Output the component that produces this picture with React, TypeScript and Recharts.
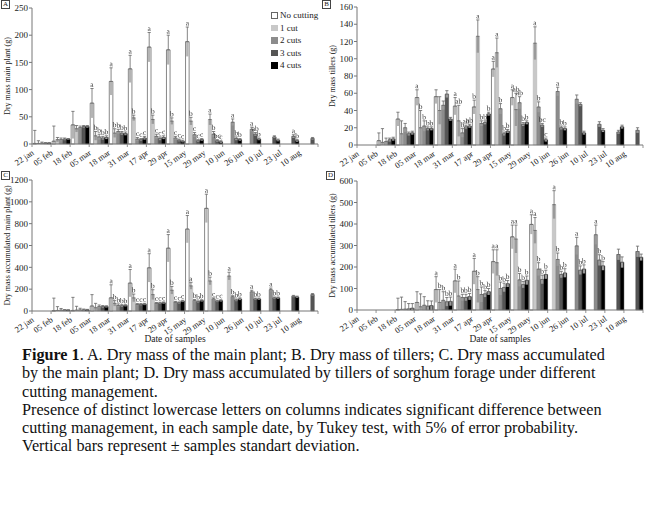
import React from 'react';
import { BarChart, Bar, XAxis, YAxis, ErrorBar, LabelList } from 'recharts';

const FONT = '"Liberation Serif", "Times New Roman", serif';
const _ = null;

const DATES = ['22 jan', '05 feb', '18 feb', '05 mar', '18 mar', '31 mar', '17 apr', '29 apr', '15 may', '29 may', '10 jun', '26 jun', '10 jul', '23 jul', '10 aug'];
const SERIES = ['No cutting', '1 cut', '2 cuts', '3 cuts', '4 cuts'];
const FILLS = ['#ffffff', '#c8c8c8', '#8c8c8c', '#555555', '#000000'];
const STROKES = ['#6a6a6a', '#a8a8a8', '#7a7a7a', '#444444', '#000000'];

// ---------- Panel A: dry mass main plant ----------
const A_TICKS = [0, 50, 100, 150, 200, 250];
const A_NC = [1, 5, 35, 75, 115, 138, 178, 173, 188, _, _, _, _, _, _];
const A_NC_SD = [24, 28, 25, 27, 25, 25, 27, 27, 27, _, _, _, _, _, _];
const A_C1 = [1, 8, 28, 15, 20, 48, 45, 42, 42, 45, _, _, _, _, _];
const A_C1_SD = [5, 4, 6, 8, 8, 5, 8, 6, 7, 10, _, _, _, _, _];
const A_C2 = [1.5, 8, 30, 13, 23, 9, 14, 11, 17, 18, 40, 27, _, _, _];
const A_C2_SD = [2, 3, 3, 5, 4, 3, 4, 3, 4, 5, 6, 4, _, _, _];
const A_C3 = [1.5, 9, 32, 11, 20, 8, 10, 7, 6, 6, 10, 18, 13, 14, 10];
const A_C3_SD = [1, 2, 2, 3, 3, 2, 3, 2, 2, 2, 3, 3, 2, 3, 2];
const A_C4 = [1.5, 9, 32, 12, 19, 11, 12, 5, 8, 4, 8, 9, 7, 6, _];
const A_C4_SD = [1, 1, 2, 3, 3, 3, 3, 2, 2, 2, 2, 2, 2, 2, _];
const A_NC_L = ['', '', '', 'a', 'a', 'a', 'a', 'a', 'a', '', '', '', '', '', ''];
const A_C1_L = ['', '', '', 'b', 'b', 'b', 'b', 'b', 'b', 'a', '', '', '', '', ''];
const A_C2_L = ['', '', '', 'b', 'b', 'c', 'c', 'c', 'c', 'b', 'a', 'a', '', '', ''];
const A_C3_L = ['', '', '', 'b', 'b', 'c', 'c', 'c', 'c', 'bc', 'b', 'ab', '', 'a', ''];
const A_C4_L = ['', '', '', 'b', 'b', 'c', 'c', 'c', 'c', 'c', 'b', 'b', '', 'b', ''];

// ---------- Panel B: dry mass tillers ----------
const B_TICKS = [0, 20, 40, 60, 80, 100, 120, 140, 160];
const B_NC = [_, 5, 30, 55, 56, 45, 44, 88, 55, _, _, _, _, _, _];
const B_NC_SD = [_, 9, 8, 9, 8, 10, 8, 9, 9, _, _, _, _, _, _];
const B_C1 = [_, 3, 13, 20, 40, 28, 126, 107, 41, 118, _, _, _, _, _];
const B_C1_SD = [_, 16, 15, 20, 16, 18, 19, 17, 19, 19, _, _, _, _, _];
const B_C2 = [_, 4, 20, 22, 46, 14, 25, 42, 49, 44, 62, 53, _, _, _];
const B_C2_SD = [_, 4, 5, 6, 5, 5, 3, 6, 7, 6, 5, 5, _, _, _];
const B_C3 = [_, 6, 13, 19, 59, 21, 26, 13, 24, 23, 20, 47, 24, 15, 17];
const B_C3_SD = [_, 2, 2, 2, 4, 2, 2, 2, 2, 2, 2, 2, 3, 2, 3];
const B_C4 = [_, 7, 14, 19, 30, 22, 36, 16, 26, 6, 19, 14, 17, 21, _];
const B_C4_SD = [_, 2, 2, 2, 2, 2, 2, 2, 2, 2, 2, 2, 2, 2, _];
const B_NC_L = ['', '', '', 'a', '', 'a', 'b', 'a', 'a', '', '', '', '', '', ''];
const B_C1_L = ['', '', '', 'b', '', 'ab', 'a', 'a', 'ab', 'a', '', '', '', '', ''];
const B_C2_L = ['', '', '', 'b', '', 'b', 'b', 'b', 'ab', 'b', 'a', '', '', '', ''];
const B_C3_L = ['', '', '', 'b', '', 'ab', 'b', 'b', 'b', 'bc', 'b', '', '', '', ''];
const B_C4_L = ['', '', '', 'b', '', 'ab', 'b', 'b', 'b', 'c', 'b', '', '', '', ''];

// ---------- Panel C: dry mass accumulated main plant ----------
const C_TICKS = [0, 200, 400, 600, 800, 1000, 1200];
const C_NC = [_, 3, 5, 45, 120, 255, 395, 575, 750, 940, _, _, _, _, _];
const C_NC_SD = [_, 115, 120, 105, 120, 125, 130, 125, 125, 130, _, _, _, _, _];
const C_C1 = [_, 5, 8, 30, 70, 120, 150, 190, 230, 275, 320, _, _, _, _];
const C_C1_SD = [_, 35, 35, 40, 25, 35, 45, 35, 30, 35, 35, _, _, _, _];
const C_C2 = [_, 8, 10, 40, 50, 60, 70, 80, 95, 110, 130, 175, 195, _, _];
const C_C2_SD = [_, 15, 15, 15, 15, 8, 8, 8, 10, 10, 10, 15, 15, _, _];
const C_C3 = [_, 8, 10, 40, 48, 60, 72, 75, 85, 90, 100, 110, 120, 135, 150];
const C_C3_SD = [_, 5, 8, 10, 10, 8, 8, 8, 8, 8, 10, 8, 8, 8, 10];
const C_C4 = [_, 8, 10, 40, 50, 62, 75, 90, 95, 95, 110, 110, 120, 128, _];
const C_C4_SD = [_, 3, 5, 8, 8, 8, 8, 8, 8, 8, 10, 8, 8, 8, _];
const C_NC_L = ['', '', '', '', 'a', 'a', 'a', 'a', 'a', 'a', '', '', '', '', ''];
const C_C1_L = ['', '', '', '', 'b', 'b', 'b', 'b', 'a', 'b', 'a', '', '', '', ''];
const C_C2_L = ['', '', '', '', 'b', 'c', 'c', 'c', 'b', 'c', 'b', 'a', 'a', '', ''];
const C_C3_L = ['', '', '', '', 'b', 'c', 'c', 'c', 'b', 'c', 'b', 'b', 'b', '', ''];
const C_C4_L = ['', '', '', '', 'b', 'c', 'c', 'c', 'b', 'c', 'b', 'b', 'b', '', ''];

// ---------- Panel D: dry mass accumulated tillers ----------
const D_TICKS = [0, 100, 200, 300, 400, 500, 600];
const D_NC = [_, _, 2, 35, 95, 135, 180, 225, 340, 398, _, _, _, _, _];
const D_NC_SD = [_, _, 53, 50, 60, 55, 60, 55, 55, 45, _, _, _, _, _];
const D_C1 = [_, _, 3, 15, 35, 65, 95, 220, 330, 370, 490, _, _, _, _];
const D_C1_SD = [_, _, 57, 60, 60, 70, 60, 60, 65, 60, 65, _, _, _, _];
const D_C2 = [_, _, 4, 22, 45, 58, 72, 100, 140, 190, 235, 298, 350, _, _];
const D_C2_SD = [_, _, 35, 40, 40, 15, 35, 30, 30, 30, 30, 40, 45, _, _];
const D_C3 = [_, _, 5, 18, 38, 58, 75, 105, 118, 142, 165, 185, 232, 258, 272];
const D_C3_SD = [_, _, 25, 25, 20, 15, 15, 20, 15, 20, 15, 20, 25, 25, 25];
const D_C4 = [_, _, 8, 20, 40, 62, 85, 122, 138, 165, 172, 190, 205, 222, 245];
const D_C4_SD = [_, _, 22, 22, 20, 15, 15, 15, 20, 20, 20, 20, 20, 25, 15];
const D_NC_L = ['', '', '', '', 'a', 'a', 'a', 'a', 'a', 'a', '', '', '', '', ''];
const D_C1_L = ['', '', '', '', 'b', 'b', 'b', 'a', 'a', 'a', 'a', '', '', '', ''];
const D_C2_L = ['', '', '', '', 'b', 'b', 'b', 'b', 'b', 'b', 'b', 'a', 'a', '', ''];
const D_C3_L = ['', '', '', '', 'b', 'b', 'b', 'b', 'b', 'b', 'b', 'b', 'b', '', ''];
const D_C4_L = ['', '', '', '', 'b', 'b', 'b', 'b', 'b', 'b', 'b', 'b', 'b', '', ''];

const CAPTION_LINES = [
  '. A. Dry mass of the main plant; B. Dry mass of tillers; C. Dry mass accumulated',
  'by the main plant; D. Dry mass accumulated by tillers of sorghum forage under different',
  'cutting management.',
  'Presence of distinct lowercase letters on columns indicates significant difference between',
  'cutting management, in each sample date, by Tukey test, with 5% of error probability.',
  'Vertical bars represent \u00b1 samples standart deviation.',
];

type Num = number | null;

function buildRows(vals: Num[][], sds: Num[][], lets: string[][]) {
  return DATES.map((d, i) => {
    const row: any = { date: d };
    vals.forEach((v, k) => {
      const val = v[i];
      const e = sds[k][i];
      const has = val != null;
      row[`v${k}`] = val;
      row[`lo${k}`] = has && e != null ? [Math.min(e, val as number), 0] : null;
      row[`hi${k}`] = has && e != null ? [0, e] : null;
      row[`t${k}`] = has ? (e ?? 0) : null;
      row[`l${k}`] = has ? lets[k][i] : '';
    });
    return row;
  });
}

const ROWS_A = buildRows([A_NC, A_C1, A_C2, A_C3, A_C4], [A_NC_SD, A_C1_SD, A_C2_SD, A_C3_SD, A_C4_SD], [A_NC_L, A_C1_L, A_C2_L, A_C3_L, A_C4_L]);
const ROWS_B = buildRows([B_NC, B_C1, B_C2, B_C3, B_C4], [B_NC_SD, B_C1_SD, B_C2_SD, B_C3_SD, B_C4_SD], [B_NC_L, B_C1_L, B_C2_L, B_C3_L, B_C4_L]);
const ROWS_C = buildRows([C_NC, C_C1, C_C2, C_C3, C_C4], [C_NC_SD, C_C1_SD, C_C2_SD, C_C3_SD, C_C4_SD], [C_NC_L, C_C1_L, C_C2_L, C_C3_L, C_C4_L]);
const ROWS_D = buildRows([D_NC, D_C1, D_C2, D_C3, D_C4], [D_NC_SD, D_C1_SD, D_C2_SD, D_C3_SD, D_C4_SD], [D_NC_L, D_C1_L, D_C2_L, D_C3_L, D_C4_L]);

const CHART_W = 325;
const PLOT_W = 286;

const DateTick = (props: any) => {
  const { x, y, payload, index } = props;
  const band = PLOT_W / DATES.length;
  return (
    <g transform={`translate(${x},${y})`}>
      <line x1={-band / 2} x2={-band / 2} y1={-2} y2={1} stroke="#777" strokeWidth={0.8} />
      {index === DATES.length - 1 && <line x1={band / 2} x2={band / 2} y1={-2} y2={1} stroke="#777" strokeWidth={0.8} />}
      <text x={-7} y={8} textAnchor="end" fontSize={8.5} fontFamily={FONT} fill="#222" transform="rotate(-35, -7, 8)">
        {payload.value}
      </text>
    </g>
  );
};

const LetterLabel = (props: any) => {
  const { x, y, width, value } = props;
  if (!value) return null;
  const cx = Number(x) + Number(width) / 2;
  const cy = Number(y) - 1.5;
  return (
    <g opacity={0.98} style={{ filter: 'grayscale(1)' }}>
      <text x={cx} y={cy} textAnchor="middle" fontSize={7.5} fontFamily={FONT} fill="#333333" stroke="none" transform={`rotate(-1, ${cx}, ${cy})`}>
        {value}
      </text>
    </g>
  );
};

type PanelProps = {
  rows: any[];
  ticks: number[];
  yLabel: string;
  height: number;
  top: number;
  xHeight: number;
  frame: boolean;
  frameWidth: number;
  xLabel: boolean;
};

function Panel({ rows, ticks, yLabel, height, top, xHeight, frame, frameWidth, xLabel }: PanelProps) {
  const max = ticks[ticks.length - 1];
  return (
    <BarChart
      width={CHART_W}
      height={height}
      data={rows}
      margin={{ top, right: 7, left: 10, bottom: 0 }}
      barSize={3.6}
      barGap={0}
      style={{ fontFamily: FONT }}
    >
      <XAxis
        dataKey="date"
        interval={0}
        tick={<DateTick />}
        tickLine={false}
        tickSize={0}
        tickMargin={2}
        height={xHeight}
        axisLine={{ stroke: '#777', strokeWidth: 1 }}
        label={xLabel ? { value: 'Date of samples', position: 'insideBottom', offset: 6, style: { fontSize: 9.5, fontFamily: FONT, fill: '#222' } } : undefined}
      />
      {frame && (
        <XAxis xAxisId="top" dataKey="date" orientation="top" height={0} tick={false} tickLine={false} axisLine={{ stroke: '#9a9a9a', strokeWidth: frameWidth }} />
      )}
      <YAxis
        domain={[0, max]}
        ticks={ticks}
        interval={0}
        width={22}
        tickSize={3}
        tickMargin={1}
        tickLine={{ stroke: '#777' }}
        axisLine={{ stroke: '#777', strokeWidth: 1 }}
        tick={{ fontSize: 9, fontFamily: FONT, fill: '#222' }}
        label={{ value: yLabel, angle: -90, position: 'insideLeft', offset: -3, style: { textAnchor: 'middle', fontSize: 8, fontFamily: FONT, fill: '#222' } }}
      />
      {frame && (
        <YAxis yAxisId="right" orientation="right" width={0} tick={false} tickLine={false} axisLine={{ stroke: '#9a9a9a', strokeWidth: frameWidth }} />
      )}
      {SERIES.map((name, k) => (
        <Bar
          key={`v${k}`}
          dataKey={`v${k}`}
          name={name}
          stackId={`s${k}`}
          fill={FILLS[k]}
          stroke={STROKES[k]}
          strokeWidth={k === 0 ? 0.8 : 0.4}
          isAnimationActive={false}
        >
          <ErrorBar dataKey={`lo${k}`} width={0} stroke={k === 0 ? '#b4b4b4' : '#9a9a9a'} strokeWidth={2.4} isAnimationActive={false} />
          <ErrorBar dataKey={`hi${k}`} width={1.6} stroke="#666" strokeWidth={0.8} isAnimationActive={false} />
        </Bar>
      ))}
      {SERIES.map((name, k) => (
        <Bar
          key={`t${k}`}
          dataKey={`t${k}`}
          stackId={`s${k}`}
          fill="transparent"
          stroke="none"
          legendType="none"
          isAnimationActive={false}
        >
          <LabelList dataKey={`l${k}`} content={<LetterLabel />} />
        </Bar>
      ))}
    </BarChart>
  );
}

const PanelTag = ({ letter, left, top }: { letter: string; left: number; top: number }) => (
  <div
    style={{
      position: 'absolute',
      left,
      top,
      width: 7,
      height: 7,
      border: '0.8px solid #444',
      fontSize: 7,
      lineHeight: '7px',
      textAlign: 'center',
      fontFamily: FONT,
      color: '#222',
      background: '#fff',
    }}
  >
    {letter}
  </div>
);

const LegendBox = () => (
  <div style={{ position: 'absolute', left: 271, top: 9, fontFamily: FONT, fontSize: 9, color: '#222' }}>
    {SERIES.map((s, k) => (
      <div key={s} style={{ display: 'flex', alignItems: 'center', height: 12.5, whiteSpace: 'nowrap' }}>
        <span
          style={{
            display: 'inline-block',
            width: 4.5,
            height: 4.5,
            background: FILLS[k],
            border: `0.6px solid ${k === 0 ? '#666' : FILLS[k]}`,
            marginRight: 2.5,
          }}
        />
        {s}
      </div>
    ))}
  </div>
);

export default function App() {
  return (
    <div style={{ position: 'absolute', left: 0, top: 0, width: 650, height: 520, background: '#fff', fontFamily: FONT }}>
      <div style={{ position: 'absolute', left: 0, top: 0 }}>
        <Panel rows={ROWS_A} ticks={A_TICKS} yLabel="Dry mass main plant (g)" height={170} top={8} xHeight={26} frame={false} frameWidth={1} xLabel={false} />
      </div>
      <div style={{ position: 'absolute', left: 325, top: 0 }}>
        <Panel rows={ROWS_B} ticks={B_TICKS} yLabel="Dry mass tillers (g)" height={170} top={7} xHeight={25} frame={true} frameWidth={1} xLabel={false} />
      </div>
      <div style={{ position: 'absolute', left: 0, top: 170 }}>
        <Panel rows={ROWS_C} ticks={C_TICKS} yLabel="Dry mass accumulated main plant (g)" height={178} top={10} xHeight={37} frame={true} frameWidth={2} xLabel={true} />
      </div>
      <div style={{ position: 'absolute', left: 325, top: 170 }}>
        <Panel rows={ROWS_D} ticks={D_TICKS} yLabel="Dry mass accumulated tillers (g)" height={178} top={11} xHeight={38} frame={true} frameWidth={2} xLabel={true} />
      </div>
      <LegendBox />
      <PanelTag letter="A" left={1} top={0} />
      <PanelTag letter="B" left={322} top={0} />
      <PanelTag letter="C" left={1} top={171} />
      <PanelTag letter="D" left={326} top={171} />
      <div style={{ position: 'absolute', left: 22, top: 346, fontFamily: FONT, fontSize: 16.2, lineHeight: '18.3px', color: '#111', whiteSpace: 'nowrap' }}>
        {CAPTION_LINES.map((line, i) => (
          <div key={i}>
            {i === 0 && <b>Figure 1</b>}
            {line}
          </div>
        ))}
      </div>
    </div>
  );
}
